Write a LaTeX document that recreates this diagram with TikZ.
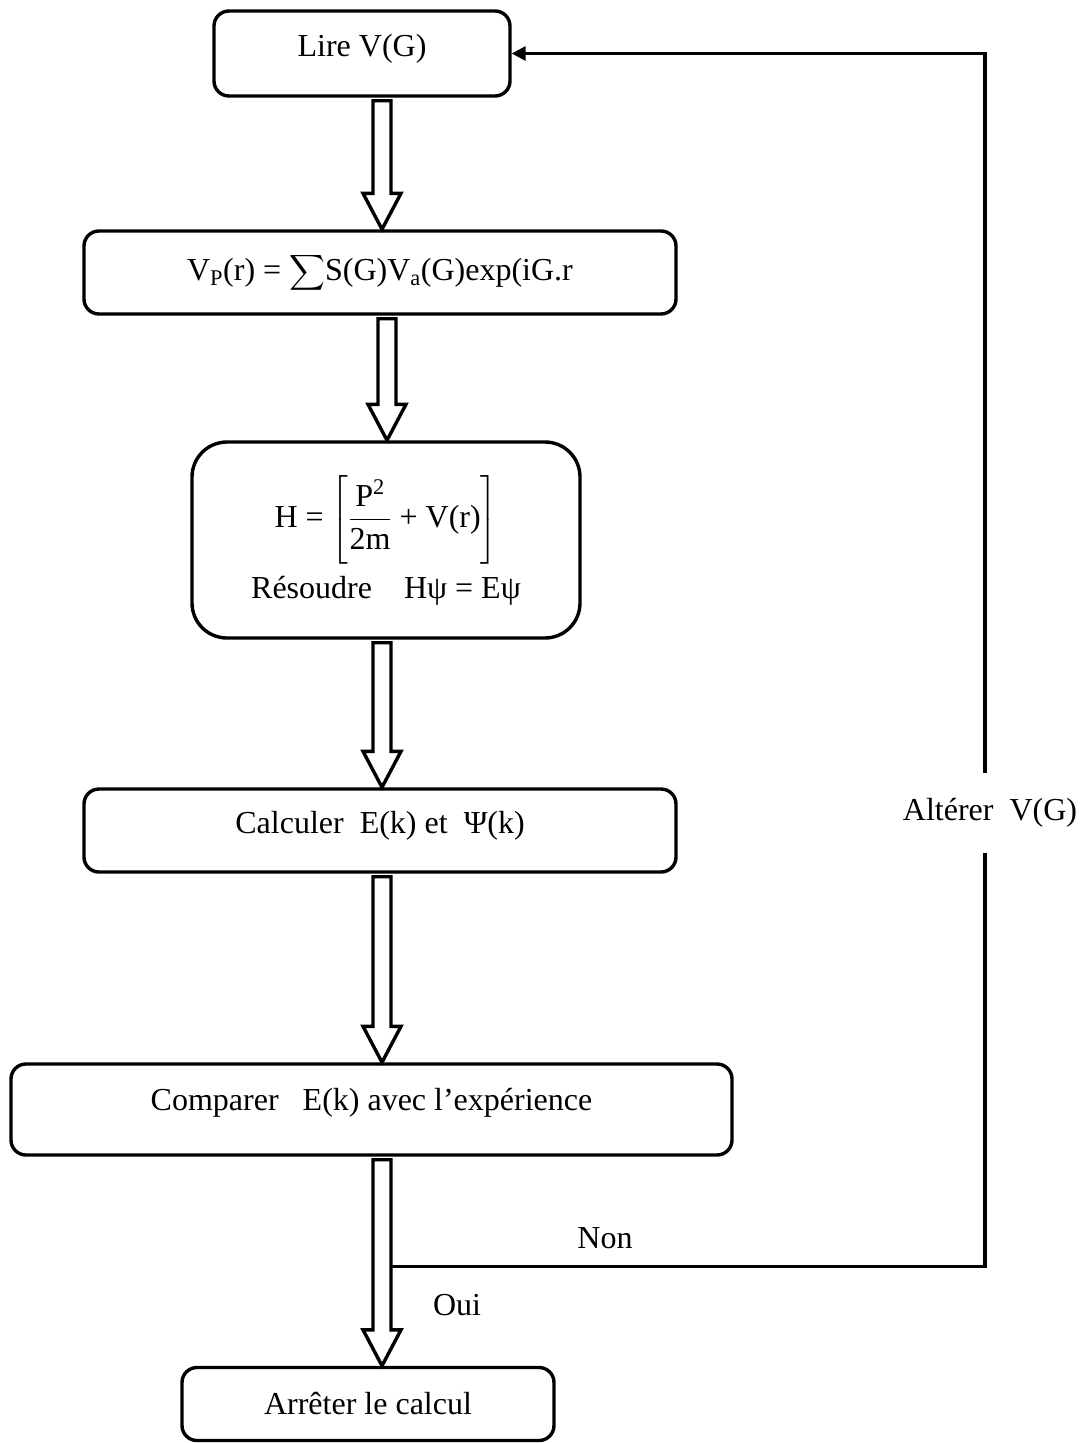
\documentclass[tikz,border=0pt]{standalone}
\usepackage{fix-cm}
\usepackage{exscale}
\usepackage{fontspec}
\setmainfont{Liberation Serif}
\usetikzlibrary{calc,arrows.meta}
\newcommand\blockarr[3]{%
  \draw[arrowline] ($(#1.south -| #3)+(-9,3)$) -- ($(#2.north -| #3)+(-9,-36)$) -- ++(-10,0)
    -- (#2.north -| #3) -- ++(19,-36) -- ++(-10,0) -- ($(#1.south -| #3)+(9,3)$) -- cycle;}
\begin{document}
\begin{tikzpicture}[x=1pt,y=-1pt,
  box/.style={draw,line width=3.4pt,rounded corners=15pt,align=center,inner sep=0pt,
    font=\fontsize{32}{38}\selectfont},
  up/.style={text depth=#1},
  lbl/.style={font=\fontsize{32}{38}\selectfont,inner sep=0pt},
  arrowline/.style={line width=3.4pt,line join=miter},
  fb/.style={line width=3.2pt,line join=miter}]
\useasboundingbox[fill=white] (0,0) rectangle (1090,1443);
\coordinate (c1) at (382,0);
\coordinate (c2) at (387,0);
\coordinate (vx) at (985,0);

\node[box,up=17pt,minimum width=296pt,minimum height=85pt] (b1) at (362,53.5) {Lire V(G)};
\node[box,minimum width=592pt,minimum height=83pt] (b2) at (380,272.5)
  {V\textsubscript{P}(r) = $\displaystyle\sum$S(G)V\textsubscript{a}(G)exp(iG.r};
\node[box,rounded corners=35pt,minimum width=388pt,minimum height=196pt] (b3) at (386,540)
  {H = $\left[\displaystyle\frac{\mbox{P\textsuperscript{2}}}{\mbox{2m}}\mbox{ + V(r)}\right]$\\[10pt]
   Résoudre\quad Hψ = Eψ};
\node[box,up=16pt,minimum width=592pt,minimum height=83pt] (b4) at (380,830.5)
  {Calculer\ \ E(k) et\ \ Ψ(k)};
\node[box,up=20pt,minimum width=721pt,minimum height=91pt] (b5) at (371.5,1109.5)
  {Comparer\ \ \ E(k) avec l’expérience};
\node[box,minimum width=372pt,minimum height=73pt] (b6) at (368,1404)
  {Arrêter le calcul};

\blockarr{b1}{b2}{c1}
\blockarr{b2}{b3}{c2}
\blockarr{b3}{b4}{c1}
\blockarr{b4}{b5}{c1}
\blockarr{b5}{b6}{c1}

\coordinate (br) at ($(b5.south -| c1)+(9,110)$);
\node[lbl,minimum height=80pt] (alt) at (990,813) {Altérer\ \ V(G)};
\draw[fb] (br) -| (vx |- alt.south);
\draw[fb,-{Triangle[length=14pt,width=14pt]}] (vx |- alt.north) |- (b1.east);

\node[lbl] (non) at (605,1238) {Non};
\node[lbl] (oui) at (457,1305) {Oui};
\end{tikzpicture}
\end{document}
